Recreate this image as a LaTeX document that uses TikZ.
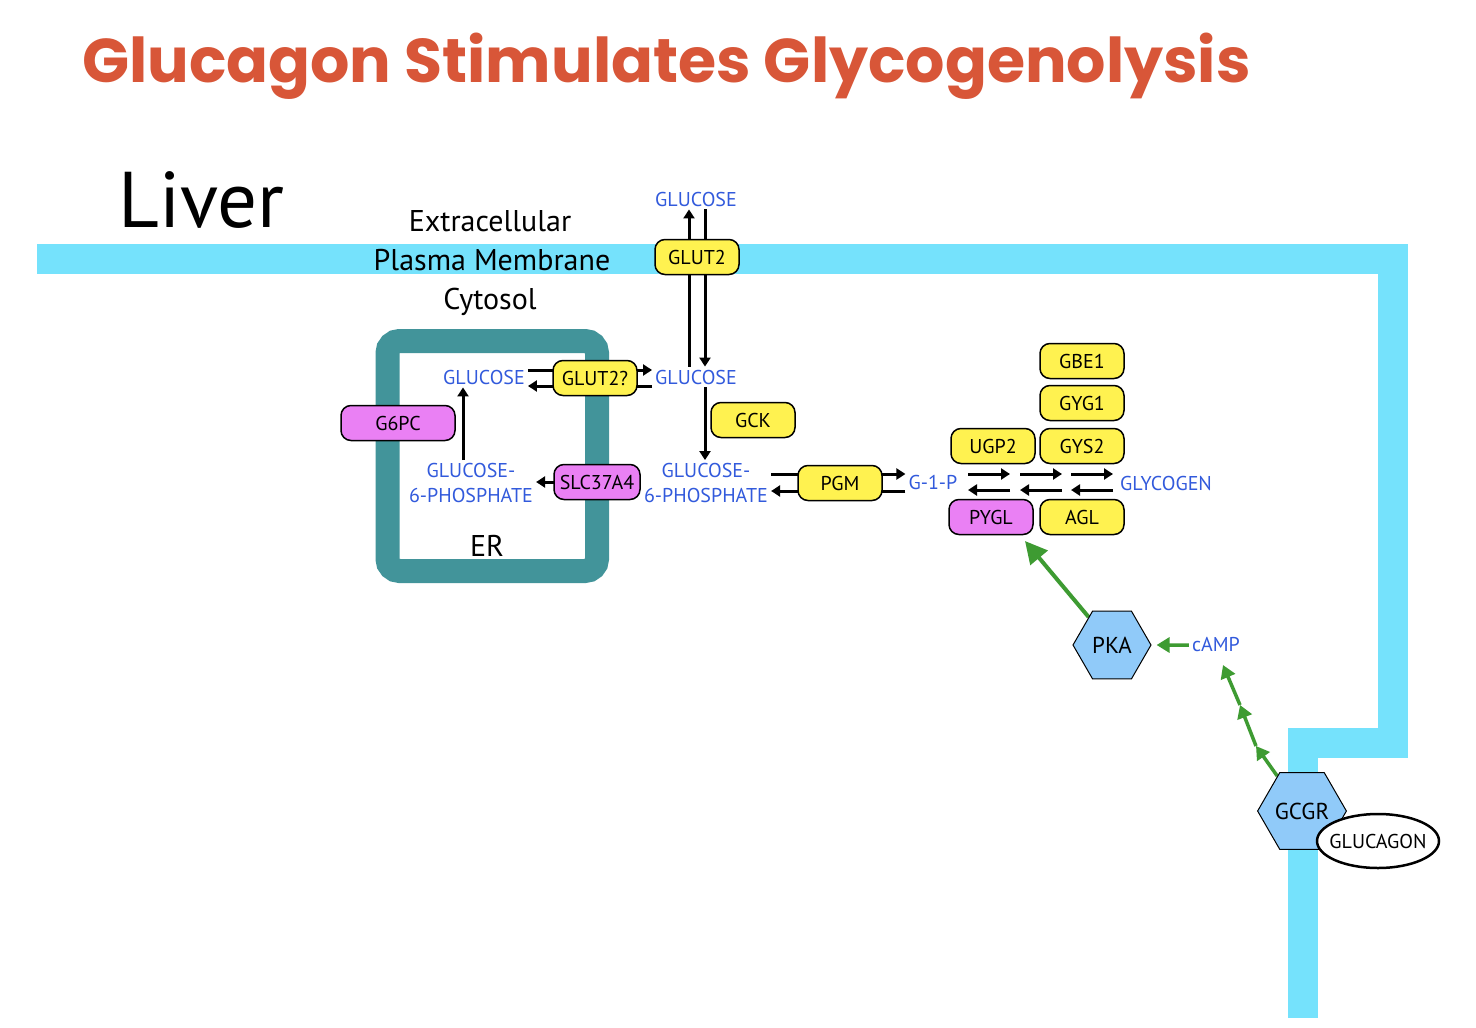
\documentclass[tikz,border=0pt]{standalone}
\usepackage{fontspec}
\setmainfont{PT Sans}
\newfontfamily\titlefont{Poppins}[FontFace={b}{n}{Poppins Bold}]
\usetikzlibrary{shapes.geometric,arrows.meta,calc}
\definecolor{membr}{RGB}{117,226,252}
\definecolor{erteal}{RGB}{66,148,154}
\definecolor{enzy}{RGB}{255,242,80}
\definecolor{enzm}{RGB}{234,128,244}
\definecolor{hexb}{RGB}{144,202,249}
\definecolor{labb}{RGB}{50,90,220}
\definecolor{grn}{RGB}{62,155,50}
\definecolor{ttl}{RGB}{216,86,56}
\pgfdeclarelayer{back}\pgfdeclarelayer{arr}
\pgfsetlayers{back,arr,main}
\tikzset{
  enz/.style={draw=black,line width=1.5pt,rounded corners=10pt,minimum width=84pt,minimum height=35pt,inner sep=0pt,font=\fontsize{20}{22}\selectfont},
  yel/.style={enz,fill=enzy},
  mag/.style={enz,fill=enzm},
  met/.style={text=labb,font=\fontsize{20}{25}\selectfont,align=center,inner sep=3pt},
  hexn/.style={regular polygon,regular polygon sides=6,draw=black,line width=1pt,fill=hexb,minimum size=78pt,inner sep=0pt,font=\fontsize{23}{24}\selectfont},
  blk/.style={line width=3pt,-{Triangle[length=9pt,width=11pt]}},
  gr/.style={grn,line width=3.5pt,-{Triangle[length=13pt,width=15pt]}},
  lbl/.style={font=\fontsize{30}{32}\selectfont,anchor=base}
}
\begin{document}
\begin{tikzpicture}[x=1pt,y=-1pt]
\useasboundingbox (0,0) rectangle (1476,1028);
\begin{pgfonlayer}{back}
\fill[white] (0,0) rectangle (1476,1028);
\draw[membr,line width=30pt,line join=miter] (37,258.5) -- (1393,258.5) -- (1393,742.5) -- (1303,742.5) -- (1303,1018);
\draw[erteal,line width=24pt,rounded corners=12pt] (387.5,341) rectangle (597,571);
\end{pgfonlayer}
% title
\node[anchor=base west,inner sep=0pt,text=ttl] (title) at (82,82) {\resizebox{1168pt}{!}{\titlefont\bfseries Glucagon Stimulates Glycogenolysis}};
\node[anchor=base west,inner sep=0pt,font=\fontsize{79}{90}\selectfont] (liver) at (118,227) {Liver};
\node[lbl] (extra) at (490,231) {Extracellular};
\node[lbl] (plasma) at (492,270) {Plasma Membrane};
\node[lbl] (cyto) at (490,309) {Cytosol};
\node[lbl] (er) at (487,556) {ER};
% metabolites
\node[met] (gluTop) at (696,199) {GLUCOSE};
\node[met] (gluCyt) at (696,377) {GLUCOSE};
\node[met] (gluER) at (484,377) {GLUCOSE};
\node[met] (g6pER) at (471,483) {GLUCOSE-\\6-PHOSPHATE};
\node[met] (g6pCyt) at (706,483) {GLUCOSE-\\6-PHOSPHATE};
\node[met] (g1p) at (933,482) {G-1-P};
\node[met] (glyc) at (1166,483) {GLYCOGEN};
\node[met] (camp) at (1216,645) {cAMP};
% enzymes
\node[yel] (glut2) at (697,257) {GLUT2};
\node[yel] (glut2q) at (595,378) {GLUT2?};
\node[mag,minimum width=114pt] (g6pc) at (398,423) {G6PC};
\node[mag,minimum width=86pt] (slc) at (597,482) {SLC37A4};
\node[yel] (gck) at (753,420) {GCK};
\node[yel] (pgm) at (840,483) {PGM};
\node[yel] (gbe1) at (1082,361) {GBE1};
\node[yel] (gyg1) at (1082,403) {GYG1};
\node[yel] (ugp2) at (993,446) {UGP2};
\node[yel] (gys2) at (1082,446) {GYS2};
\node[mag] (pygl) at (991,517) {PYGL};
\node[yel] (agl) at (1082,517) {AGL};
% hexagons
\node[hexn] (pka) at (1112,645) {PKA};
\node[hexn] (gcgr) at (1302,811) {GCGR};
\node[draw=black,line width=2.5pt,fill=white,ellipse,minimum width=122pt,minimum height=54pt,inner sep=0pt,font=\fontsize{20}{22}\selectfont] (glucagon) at (1378,841) {\makebox[0pt]{GLUCAGON}};
% coordinates
\coordinate (a1s) at (968,474); \coordinate (a1e) at (1010,474);
\coordinate (a2s) at (1020,474); \coordinate (a2e) at (1062,474);
\coordinate (a3s) at (1071,474); \coordinate (a3e) at (1113,474);
\coordinate (b1s) at (1010,490); \coordinate (b1e) at (968,490);
\coordinate (b2s) at (1062,490); \coordinate (b2e) at (1020,490);
\coordinate (b3s) at (1113,490); \coordinate (b3e) at (1071,490);
\coordinate (pyglTip) at (1025,541);
\coordinate (c1) at (1256,746);
\coordinate (c2) at (1240,705);
\coordinate (c3) at (1223,665);
\begin{pgfonlayer}{arr}
\draw[blk] ([xshift=-7pt]gluCyt.north) -- ([xshift=-7pt]gluTop.south);
\draw[blk] ([xshift=9pt]gluTop.south) -- ([xshift=9pt]gluCyt.north);
\draw[blk] ([yshift=7pt]gluER.east) -- ([yshift=7pt]gluCyt.west);
\draw[blk] ([yshift=-9pt]gluCyt.west) -- ([yshift=-9pt]gluER.east);
\draw[blk] ([xshift=9pt]gluCyt.south) -- ([xshift=-1pt]g6pCyt.north);
\draw[blk] ([xshift=-8pt]g6pER.north) -- ([xshift=-21pt]gluER.south);
\draw[blk] ([yshift=1pt]g6pCyt.west) -- ([yshift=1pt]g6pER.east);
\draw[blk] ([yshift=9pt]g6pCyt.east) -- ([yshift=8pt]g1p.west);
\draw[blk] ([yshift=-9pt]g1p.west) -- ([yshift=-8pt]g6pCyt.east);
\draw[blk] (a1s) -- (a1e); \draw[blk] (a2s) -- (a2e); \draw[blk] (a3s) -- (a3e);
\draw[blk] (b1s) -- (b1e); \draw[blk] (b2s) -- (b2e); \draw[blk] (b3s) -- (b3e);
\draw[gr,line width=4pt,-{Triangle[length=22pt,width=22pt]}] (pka) -- (pyglTip);
\draw[gr,shorten >=5pt] (camp.west) -- (pka.east);
\draw[gr] (gcgr) -- (c1);
\draw[gr] (c1) -- (c2);
\draw[gr] (c2) -- (c3);
\end{pgfonlayer}
\end{tikzpicture}
\end{document}
